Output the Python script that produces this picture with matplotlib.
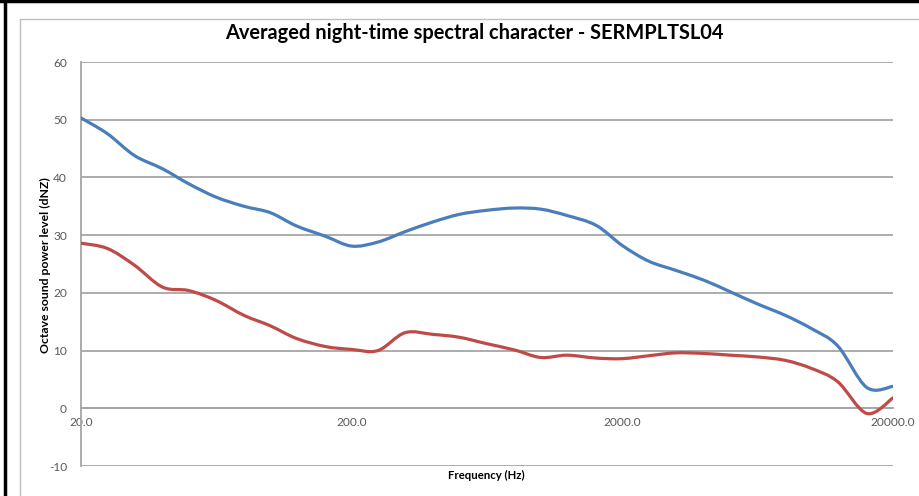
import numpy as np
import matplotlib
matplotlib.use("Agg")
import matplotlib.pyplot as plt
from matplotlib.path import Path
from matplotlib.patches import PathPatch
from matplotlib.lines import Line2D

# 1/3 octave band centre frequencies (Hz)
freqs = [20, 25, 31.5, 40, 50, 63, 80, 100, 125, 160, 200, 250, 315, 400, 500,
         630, 800, 1000, 1250, 1600, 2000, 2500, 3150, 4000, 5000, 6300, 8000,
         10000, 12500, 16000, 20000]

# levels
blue_levels = [50.3, 47.6, 43.8, 41.5, 38.9, 36.6, 35.0, 33.9, 31.6, 29.8, 28.1,
               28.8, 30.6, 32.3, 33.6, 34.3, 34.7, 34.5, 33.4, 31.7, 28.2, 25.5,
               23.9, 22.2, 20.2, 18.1, 16.1, 13.8, 10.8, 3.6, 3.8]
red_levels = [28.6, 27.7, 24.8, 21.0, 20.4, 18.7, 16.1, 14.3, 12.1, 10.7, 10.2,
              10.0, 13.1, 12.8, 12.3, 11.2, 10.1, 8.8, 9.2, 8.7, 8.6, 9.1,
              9.6, 9.5, 9.2, 8.9, 8.3, 6.9, 4.6, -0.9, 1.8]

x_ticks = [20, 200, 2000, 20000]
x_ticklabels = ["20.0", "200.0", "2000.0", "20000.0"]
y_ticks = [-10, 0, 10, 20, 30, 40, 50, 60]

title = "Averaged night-time spectral character - SERMPLTSL04"
xlabel = "Frequency (Hz)"
ylabel = "Octave sound power level (dNZ)"


def smooth_path(xs, ys):
    # Excel style smoothed line: bezier segments, built in log-x space
    pts = np.column_stack([np.log10(xs), ys])
    n = len(pts)
    verts = [pts[0]]
    codes = [Path.MOVETO]
    for i in range(n - 1):
        p0 = pts[max(i - 1, 0)]
        p1 = pts[i]
        p2 = pts[i + 1]
        p3 = pts[min(i + 2, n - 1)]
        verts += [p1 + (p2 - p0) / 6, p2 - (p3 - p1) / 6, p2]
        codes += [Path.CURVE4] * 3
    verts = np.array(verts)
    verts[:, 0] = 10 ** verts[:, 0]
    return Path(verts, codes)


plt.rcParams['font.family'] = ['Lato', 'DejaVu Sans']

fig = plt.figure(figsize=(9.2, 4.96), dpi=100)
ax = fig.add_axes([81 / 920, 1 - 466 / 496, (893 - 81) / 920, (466 - 62) / 496])

ax.set_xscale('log')
ax.set_xlim(20, 20000)
ax.set_ylim(-10, 60)

for levels, col in [(blue_levels, '#4A7EBB'), (red_levels, '#BE4B48')]:
    ax.add_patch(PathPatch(smooth_path(freqs, levels), fill=False,
                           edgecolor=col, lw=2.3, capstyle='round',
                           joinstyle='round', zorder=3))

ax.set_yticks(y_ticks)
ax.set_yticklabels([str(v) for v in y_ticks])
ax.set_xticks(x_ticks)
ax.set_xticklabels(x_ticklabels)
ax.xaxis.set_minor_locator(matplotlib.ticker.NullLocator())
ax.tick_params(axis='both', length=0, labelsize=8.6, colors='#595959')
ax.tick_params(axis='y', pad=10)
ax.tick_params(axis='x', pad=6)

ax.grid(axis='y', color='#A6A6A6', lw=1.3)
ax.set_axisbelow(True)
for s in ['top', 'right']:
    ax.spines[s].set_visible(False)
ax.spines['bottom'].set_position(('data', 0))
ax.spines['bottom'].set_color('#A6A6A6')
ax.spines['bottom'].set_linewidth(1.3)
ax.spines['left'].set_color('#A6A6A6')
ax.spines['left'].set_linewidth(1.3)

fig.text(486 / 920, 1 - 475 / 496, xlabel, ha='center', va='center',
         fontsize=8.2, fontweight='bold')
fig.text(45 / 920, 1 - 265 / 496, ylabel, ha='center', va='center',
         rotation=90, fontsize=8.8, fontweight='bold')
fig.text(474 / 920, 1 - 33 / 496, title, ha='center', va='center',
         fontsize=14.4, fontweight='bold')

# frame around the chart area, as in the screenshot
fig.add_artist(Line2D([0, 1], [1 - 1 / 496] * 2, transform=fig.transFigure,
                      color='black', lw=2.5))
fig.add_artist(Line2D([5.5 / 920] * 2, [0, 1], transform=fig.transFigure,
                      color='black', lw=2.5))
fig.add_artist(Line2D([20 / 920, 20 / 920, 1], [0, 1 - 19 / 496, 1 - 19 / 496],
                      transform=fig.transFigure, color='#BFBFBF', lw=1))

fig.savefig('out.png', dpi=100)
